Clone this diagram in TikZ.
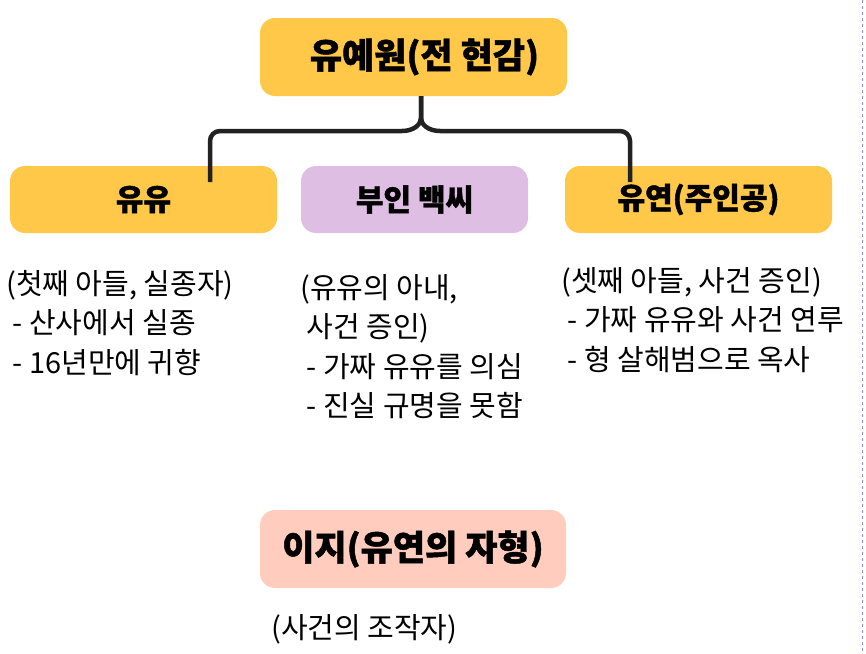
\documentclass[tikz,border=0pt]{standalone}
\usepackage{fontspec}
\setmainfont{Noto Sans CJK KR}
\newfontfamily\heavy{Noto Sans CJK KR}[BoldFeatures={FakeBold=1.3}]
\usetikzlibrary{positioning}
\definecolor{gold}{RGB}{255,200,72}
\definecolor{lilac}{RGB}{223,190,228}
\definecolor{salmon}{RGB}{255,204,190}
\definecolor{bracket}{RGB}{34,34,34}

\begin{document}
\begin{tikzpicture}[x=1pt,y=-1pt,box/.style={rounded corners=15pt,inner sep=0pt,font=\fontsize{30}{32}\heavy\bfseries,minimum width=267pt,minimum height=67pt},bigbox/.style={box,font=\fontsize{35}{38}\heavy\bfseries,minimum width=307pt,minimum height=78pt},note/.style={anchor=north west,inner sep=0pt,align=left,font=\fontsize{29}{39.5}\selectfont},link/.style={line width=4.5pt,draw=bracket,rounded corners=10pt}]
\useasboundingbox (0,0) rectangle (866,653);
\node[bigbox,fill=gold] (head) at (413.5,57) {\hspace*{22pt}유예원(전 현감)};
\node[box,fill=gold] (yuyu) at (143.5,199.5) {유유};
\node[box,fill=lilac,minimum width=227pt] (baek) at (414.5,199.5) {부인 백씨};
\node[box,fill=gold] (yeon) at (698.5,199.5) {유연(주인공)};
\node[bigbox,fill=salmon,minimum width=306pt] (iji) at (413,549) {이지(유연의 자형)};
\coordinate (lfoot) at (210,182);
\coordinate (rfoot) at (630,182);
\coordinate (mid) at (421,131);
\draw[link] (head.south -| mid) -- ++(0,12) .. controls ++(0,16) and (428,131) .. (450,131) -- (rfoot |- mid) -- (rfoot);
\draw[link] (head.south -| mid) -- ++(0,12) .. controls ++(0,16) and (414,131) .. (392,131) -- (lfoot |- mid) -- (lfoot);
\node[note] (yuyunote) at (6,270) {(첫째 아들, 실종자)\\~- 산사에서 실종\\~- 16년만에 귀향};
\node[note] (baeknote) at (300,274) {(유유의 아내,\\~사건 증인)\\~- 가짜 유유를 의심\\~- 진실 규명을 못함};
\node[note] (yeonnote) at (561,267) {(셋째 아들, 사건 증인)\\~- 가짜 유유와 사건 연루\\~- 형 살해범으로 옥사};
\node[note] (ijinote) at (271,614) {(사건의 조작자)};
\draw[blue!45,dashed,line width=0.8pt] (862,0) -- (862,653);
\end{tikzpicture}
\end{document}
